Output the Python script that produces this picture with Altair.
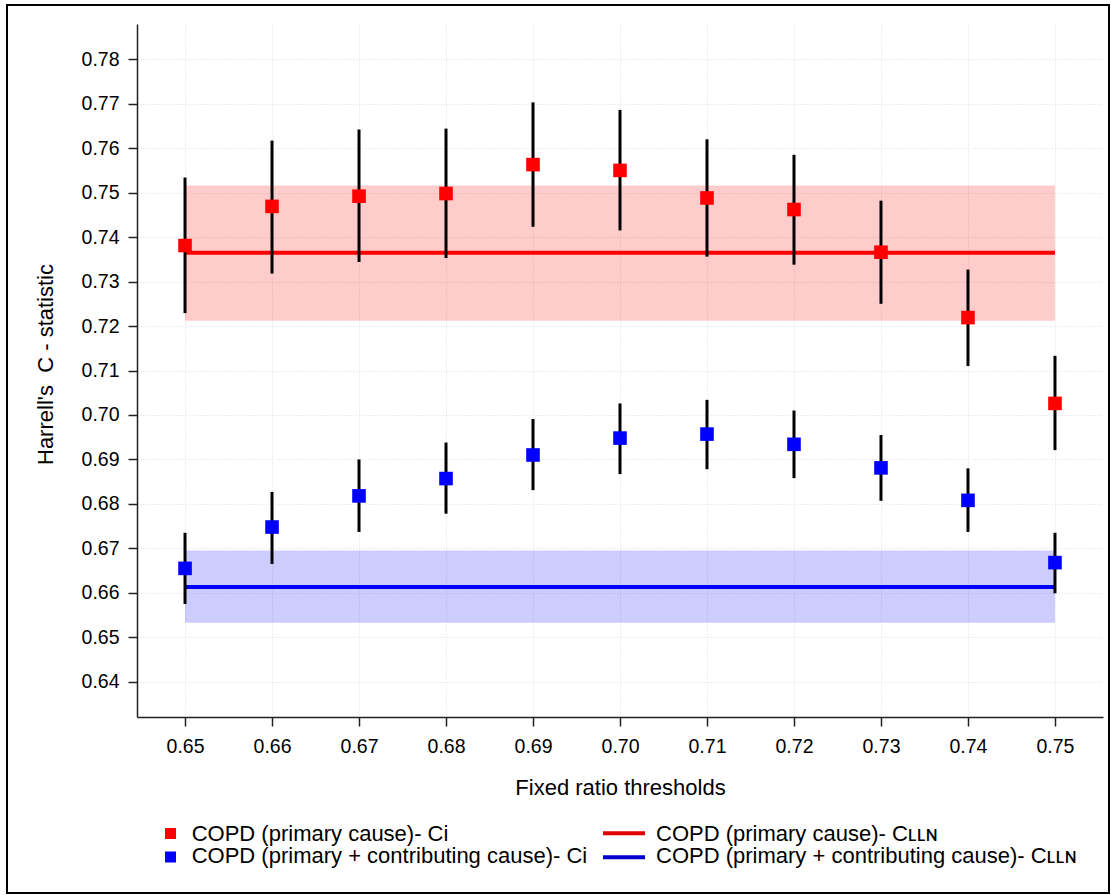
import altair as alt
import pandas as pd

# Fixed-ratio thresholds on the x axis
thresholds = [0.65, 0.66, 0.67, 0.68, 0.69, 0.70, 0.71, 0.72, 0.73, 0.74, 0.75]

# COPD (primary cause): Harrell's C per threshold with 95% CI
primary_c = [0.7381, 0.7469, 0.7492, 0.7498, 0.7563, 0.7550, 0.7488, 0.7462, 0.7366, 0.7219, 0.7026]
primary_lo = [0.7229, 0.7318, 0.7344, 0.7353, 0.7423, 0.7415, 0.7356, 0.7338, 0.7250, 0.7110, 0.6921]
primary_hi = [0.7534, 0.7617, 0.7642, 0.7644, 0.7703, 0.7686, 0.7620, 0.7585, 0.7482, 0.7327, 0.7133]

# COPD (primary + contributing cause): Harrell's C per threshold with 95% CI
contrib_c = [0.6655, 0.6748, 0.6818, 0.6857, 0.6910, 0.6948, 0.6957, 0.6934, 0.6881, 0.6808, 0.6668]
contrib_lo = [0.6575, 0.6665, 0.6737, 0.6778, 0.6831, 0.6867, 0.6878, 0.6858, 0.6807, 0.6737, 0.6599]
contrib_hi = [0.6735, 0.6827, 0.6900, 0.6938, 0.6991, 0.7026, 0.7034, 0.7010, 0.6955, 0.6880, 0.6735]

# LLN-based C statistic (estimate, lower, upper)
lln_primary = [0.7365, 0.7212, 0.7516]
lln_contrib = [0.6613, 0.6533, 0.6695]

y_ticks = [0.64, 0.65, 0.66, 0.67, 0.68, 0.69, 0.70, 0.71, 0.72, 0.73, 0.74, 0.75, 0.76, 0.77, 0.78]

legend_labels = [
    "COPD (primary cause)- Ci",
    "COPD (primary + contributing cause)- Ci",
    "COPD (primary cause)- C\u029f\u029f\u0274",
    "COPD (primary + contributing cause)- C\u029f\u029f\u0274",
]

RED, BLUE = "#ff0000", "#0000ff"
RED_LINE, BLUE_LINE = "#e00000", "#0000cc"
FONT = "Liberation Sans"

W, H = 966, 693
PAD_L, PAD_T = 137, 24

points = pd.DataFrame({
    "x": thresholds * 2,
    "c": primary_c + contrib_c,
    "lo": primary_lo + contrib_lo,
    "hi": primary_hi + contrib_hi,
    "group": ["primary"] * len(thresholds) + ["contrib"] * len(thresholds),
})
lln = pd.DataFrame({
    "x0": [thresholds[0]] * 2,
    "x1": [thresholds[-1]] * 2,
    "c": [lln_primary[0], lln_contrib[0]],
    "lo": [lln_primary[1], lln_contrib[1]],
    "hi": [lln_primary[2], lln_contrib[2]],
    "group": ["primary", "contrib"],
})

xscale = alt.Scale(domain=[0.64448, 0.75552], nice=False, zero=False)
yscale = alt.Scale(domain=[0.63208, 0.78792], nice=False, zero=False)

x_axis = alt.Axis(
    values=thresholds, format=".2f", title="Fixed ratio thresholds",
    titleX=W / 2, titleY=77, titleBaseline="alphabetic", titleAlign="center",
)
y_axis = alt.Axis(
    values=y_ticks, format=".2f", title="Harrell's\u00a0 C - statistic",
    titleX=-85, titleY=340, titleBaseline="alphabetic", titleAlign="center", titleAngle=-90,
)

fill_scale = alt.Scale(domain=["primary", "contrib"], range=[RED, BLUE])
line_scale = alt.Scale(domain=["primary", "contrib"], range=[RED_LINE, BLUE_LINE])

bands = alt.Chart(lln).mark_rect(opacity=0.2).encode(
    x=alt.X("x0:Q", scale=xscale, axis=x_axis),
    x2="x1:Q",
    y=alt.Y("lo:Q", scale=yscale, axis=y_axis),
    y2="hi:Q",
    color=alt.Color("group:N", scale=fill_scale, legend=None),
)

lln_lines = alt.Chart(lln).mark_rule(strokeWidth=4).encode(
    x=alt.X("x0:Q", scale=xscale),
    x2="x1:Q",
    y=alt.Y("c:Q", scale=yscale),
    color=alt.Color("group:N", scale=line_scale, legend=None),
)

err = alt.Chart(points).mark_rule(color="black", strokeWidth=3).encode(
    x=alt.X("x:Q", scale=xscale),
    y=alt.Y("lo:Q", scale=yscale),
    y2="hi:Q",
)

marks = alt.Chart(points).mark_square(size=185, opacity=1).encode(
    x=alt.X("x:Q", scale=xscale),
    y=alt.Y("c:Q", scale=yscale),
    fill=alt.Fill("group:N", scale=fill_scale, legend=None),
)

# Hand-placed legend below the plot
legend_layers = []
sq_rows = [(809.5, RED), (833.0, BLUE)]
for yy, col in sq_rows:
    legend_layers.append(
        alt.Chart(pd.DataFrame({"k": [0]})).mark_square(size=121, color=col, opacity=1).encode(
            x=alt.value(170.5 - PAD_L), y=alt.value(yy)
        )
    )
ln_rows = [(809.3, RED_LINE), (833.3, BLUE_LINE)]
for yy, col in ln_rows:
    legend_layers.append(
        alt.Chart(pd.DataFrame({"k": [0]})).mark_rule(color=col, strokeWidth=4).encode(
            x=alt.value(603 - PAD_L), x2=alt.value(645 - PAD_L), y=alt.value(yy)
        )
    )
text_pos = [(191.7, 816.7), (191.7, 839.3), (656, 816.7), (656, 839.3)]
for (tx, ty), lab in zip(text_pos, legend_labels):
    legend_layers.append(
        alt.Chart(pd.DataFrame({"label": [lab]})).mark_text(
            align="left", baseline="alphabetic", font=FONT, fontSize=22, color="black"
        ).encode(x=alt.value(tx - PAD_L), y=alt.value(ty), text="label:N")
    )

frame = alt.Chart(pd.DataFrame({"k": [0]})).mark_rect(
    fillOpacity=0, stroke="black", strokeWidth=2
).encode(
    x=alt.value(7 - PAD_L), x2=alt.value(1109 - PAD_L),
    y=alt.value(5 - PAD_T), y2=alt.value(893 - PAD_T),
)

chart = alt.layer(bands, lln_lines, err, marks, *legend_layers, frame).properties(
    width=W, height=H,
    autosize=alt.AutoSizeParams(type="none"),
    padding={"left": PAD_L, "top": PAD_T, "right": 1111 - PAD_L - W, "bottom": 895 - PAD_T - H},
    background="white",
).configure_view(strokeWidth=0).configure_axis(
    labelFont=FONT, titleFont=FONT, labelFontSize=19.5, titleFontSize=22,
    labelColor="black", titleColor="black", titleFontWeight="normal",
    domainColor="#222222", domainWidth=1.5, tickColor="#222222", tickWidth=1.5,
    tickSize=9, grid=True, gridColor="#dcdcdc", gridDash=[1, 2], gridWidth=1,
).configure_axisX(labelPadding=11).configure_axisY(labelPadding=9)

chart.save("out.html", embed_options={"renderer": "svg", "actions": False})
